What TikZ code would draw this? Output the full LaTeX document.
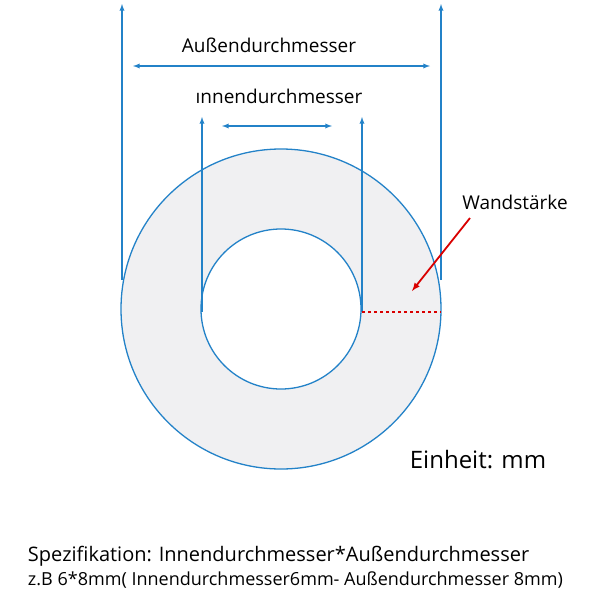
\documentclass[tikz,border=0pt]{standalone}
\usepackage{fontspec}
\setmainfont{Open Sans}
\usetikzlibrary{positioning}
\definecolor{ringblue}{RGB}{35,130,200}
\definecolor{ringfill}{RGB}{240,240,242}
\begin{document}
\begin{tikzpicture}[x=1pt, y=-1pt, line width=1.3pt,
dim/.style = { color = ringblue, -latex },
dimboth/.style = { color = ringblue, latex-latex },
lbl/.style = { font = \fontsize{19}{22}\selectfont }]
\useasboundingbox (0,0) rectangle (600,600);
% ring
\coordinate (c) at (281,309);
\fill[ringfill, even odd rule] (c) circle (160) (c) circle (80);
\draw[ringblue] (c) circle (160);
\draw[ringblue] (c) circle (80);
% extension lines
\coordinate (ol) at (122,280);
\coordinate (or) at (441,280);
\coordinate (il) at (202,312);
\coordinate (ir) at (362,312);
\coordinate (olt) at (122,4);
\coordinate (ort) at (441,4);
\coordinate (ilt) at (202,117);
\coordinate (irt) at (362,117);
\draw[dim] (ol) -- (olt);
\draw[dim] (or) -- (ort);
\draw[dim] (il) -- (ilt);
\draw[dim] (ir) -- (irt);
% dimension arrows
\coordinate (oa) at (133,66);
\coordinate (ob) at (430,66);
\coordinate (ia) at (222,126);
\coordinate (ib) at (332,126);
\draw[dimboth] (oa) -- (ob);
\draw[dimboth] (ia) -- (ib);
\node[lbl] (outer) at (269,45) {Außendurchmesser};
\node[lbl] (inner) at (279,96) {ınnendurchmesser};
% wall thickness
\draw[red!85!black, dashed, line width=1.8pt] (ir) -- (441,312);
\node[lbl] (wall) at (515,202) {Wandstärke};
\coordinate (wt) at (412,291);
\draw[red!85!black, line width=1.8pt, -latex] (470,218) -- (wt);
\node[font = \fontsize{24}{28}\selectfont] (unit) at (478,460) {Einheit: mm};
% specification
\node[font = \fontsize{20}{24}\selectfont, anchor = west] (spec) at (24,556) {Spezifikation: Innendurchmesser*Außendurchmesser};
\node[font = \fontsize{18}{21}\selectfont, anchor = west] (ex) at (24,580) {z.B 6*8mm( Innendurchmesser6mm- Außendurchmesser 8mm)};
\end{tikzpicture}
\end{document}
